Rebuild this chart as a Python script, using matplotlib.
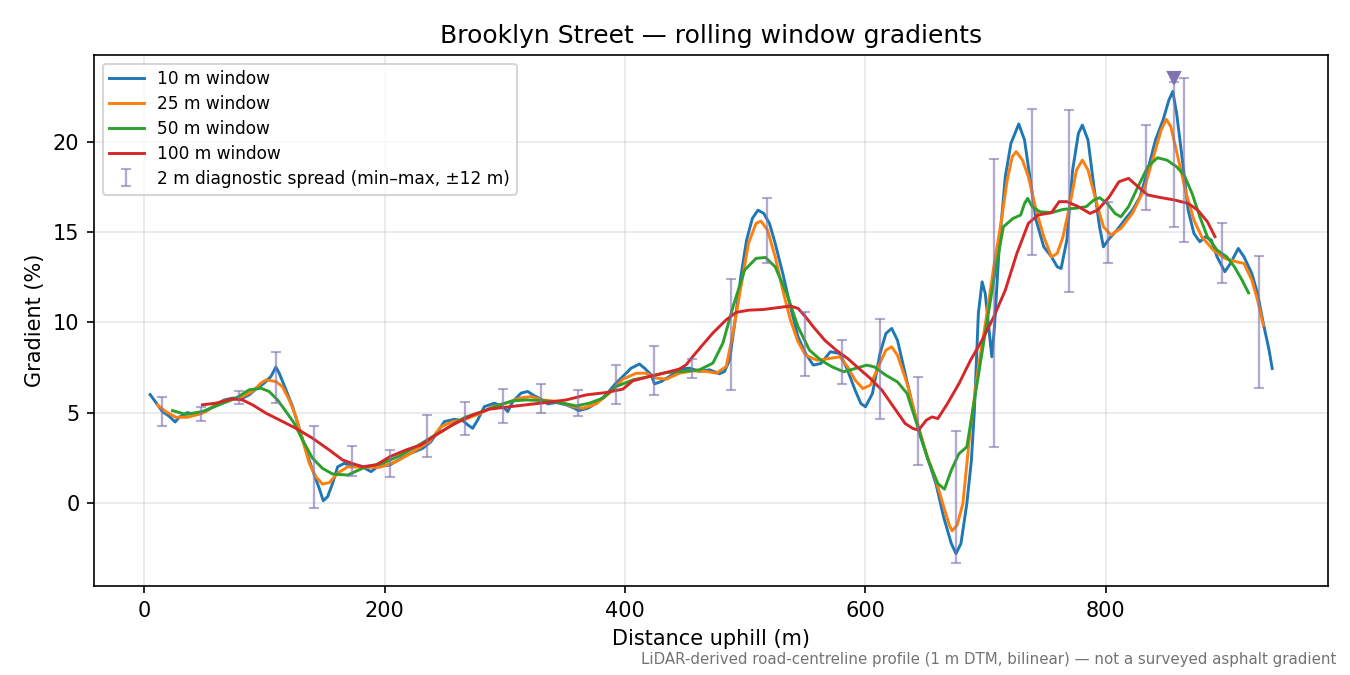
import numpy as np
import matplotlib
matplotlib.use("Agg")
import matplotlib.pyplot as plt

# distance uphill (m) / gradient (%), one pair of lists per window
d10 = [5, 8.3, 15.2, 20.8, 25.8, 29.1, 36, 43, 51.3, 59.6, 66.6, 73.5, 81.8, 87.4, 93, 99.9,
       105.5, 109.6, 112.4, 118, 123.5, 129, 134.6, 140.1, 145.7, 149, 152.6, 156.8, 161, 166.5,
       172.9, 180.4, 188.7, 194.2, 204.5, 213.7, 222, 231.7, 238.6, 244.2, 249.7, 258, 265, 269.2,
       273.3, 277.5, 283, 291.4, 298.3, 302.5, 306.6, 313.6, 319, 324.6, 330.2, 335.7, 342.7, 351,
       358, 361.3, 369, 376, 384.3, 391.2, 398.2, 405.1, 412, 416.2, 421.8, 424.5, 430.1, 437,
       445.3, 453.7, 462, 470.3, 478.6, 482.8, 487, 491.6, 496.3, 501.1, 505.9, 510.6, 515.4,
       520.1, 524.9, 531.2, 537.6, 543.9, 550.2, 556.6, 562.9, 570.8, 578.8, 585.1, 591.4, 596.2,
       600, 605.8, 612.1, 617, 621.8, 626.6, 633, 639.4, 645.8, 652.2, 658.6, 665, 671.4, 675.3,
       679.4, 684.3, 688.1, 690.6, 693.9, 697, 699.6, 702.5, 705.1, 707.3, 711.4, 716.3, 721,
       727.5, 732.3, 737.1, 741.9, 748.3, 754.7, 759.5, 762.7, 767.5, 772.3, 777.1, 780.4, 785.1,
       790, 794.7, 797.9, 802.8, 809.2, 815.5, 822, 828.4, 834.8, 841.2, 847.5, 852.4, 855.6,
       858.8, 863.6, 868.4, 873.2, 878.1, 882.8, 887.7, 892.4, 898.9, 903.6, 910.1, 914.8, 921.3,
       926.1, 930.9, 935.7, 938.3]
g10 = [6.0, 5.7, 5.06, 4.8, 4.48, 4.74, 5.0, 4.87, 5.06, 5.43, 5.7, 5.8, 5.8, 5.98, 6.3, 6.63,
       7.0, 7.52, 7.18, 6.26, 5.33, 4.13, 2.93, 1.82, 0.8, 0.12, 0.34, 1.08, 2.0, 2.19,
       2.04, 2.04, 1.73, 2.0, 2.1, 2.47, 2.75, 3.02, 3.39, 3.95, 4.5, 4.63, 4.56, 4.32,
       4.13, 4.6, 5.33, 5.52, 5.33, 5.06, 5.61, 6.08, 6.17, 5.93, 5.74, 5.48, 5.56, 5.43,
       5.24, 5.11, 5.24, 5.52, 5.98, 6.54, 7.0, 7.46, 7.69, 7.46, 7.09, 6.59, 6.72, 7.0,
       7.41, 7.46, 7.28, 7.37, 7.15, 7.28, 7.92, 10.12, 12.52, 14.55, 15.75, 16.21, 16.03,
       15.48, 14.37, 12.71, 10.86, 9.2, 8.27, 7.63, 7.72, 8.37, 8.27, 7.35, 6.24, 5.5,
       5.32, 6.06, 8.27, 9.38, 9.66, 9.01, 7.17, 5.32, 3.66, 2.36, 1.07, -0.78, -2.25, -2.81,
       -2.25, -0.04, 2.36, 5.13, 10.49, 12.24, 11.6, 9.75, 8.09, 9.75, 14.37, 18.06, 19.91,
       20.98, 20.09, 17.88, 15.66, 14.18, 13.63, 13.07, 12.98, 14.55, 18.43, 20.46, 20.92, 20.09,
       17.51, 15.29, 14.18, 14.64, 15.11, 15.66, 16.21, 16.95, 18.43, 20.09, 21.2, 22.31, 22.78,
       21.57, 18.98, 16.21, 14.92, 14.46, 14.74, 14.55, 13.63, 12.8, 13.26, 14.09, 13.63, 12.71,
       11.6, 9.94, 8.46, 7.44]

d25 = [11, 18, 26.4, 36, 48.5, 65.2, 79, 90.2, 97.1, 101.3, 109.6, 115, 120.7, 126.3, 131.8,
       137.4, 142.9, 148.4, 154, 161, 169.3, 184.5, 195.6, 209.5, 222, 237.2, 247, 256.6, 266.9,
       278.9, 290, 301, 312.2, 321.9, 330.7, 345.5, 356.5, 364.9, 376, 387.1, 398.2, 409.3, 417.6,
       426, 434.3, 445.3, 456.4, 467.6, 475.9, 484.2, 489.8, 496, 502.7, 509, 513.1, 518.5, 524.9,
       531.2, 537.6, 543.9, 550.2, 559.7, 569.3, 578.8, 585.1, 591.4, 597.8, 604.1, 610.6, 617,
       621.8, 626.6, 634.6, 642.6, 650.6, 658.6, 665.1, 669.8, 672, 676.2, 681, 687.4, 693.9,
       700.2, 706.7, 713.1, 717.9, 722.1, 725.3, 730.6, 735.5, 741.9, 748.3, 754.7, 759.5, 764.3,
       770.8, 775.5, 780.4, 785.1, 791.6, 797.9, 804.3, 812.4, 822, 831.6, 839.6, 846, 850.2, 854,
       860.4, 866.7, 873.2, 879.6, 889.3, 898.9, 908.5, 914.8, 921.3, 926.1, 930.9]
g25 = [5.43, 5.06, 4.74, 4.74, 4.97, 5.61, 5.8, 6.17, 6.63, 6.81, 6.72, 6.44, 5.7, 4.78, 3.48,
       2.19, 1.45, 1.04, 1.12, 1.64, 2.0, 1.97, 1.97, 2.28, 2.75, 3.39, 4.22, 4.5, 4.63,
       4.93, 5.33, 5.52, 5.8, 5.89, 5.7, 5.61, 5.33, 5.24, 5.48, 6.08, 6.85, 7.18, 7.18,
       6.91, 6.85, 7.18, 7.31, 7.28, 7.18, 7.55, 9.4, 11.8, 14.37, 15.48, 15.6, 15.11, 13.63,
       11.78, 10.12, 8.92, 8.18, 7.9, 7.99, 8.09, 7.53, 6.8, 6.33, 6.52, 7.53, 8.46,
       8.64, 8.18, 6.61, 4.58, 2.73, 1.26, -0.22, -1.24, -1.55, -1.24, -0.04, 4.21, 7.53,
       10.12, 13.07, 15.66, 17.88, 19.17, 19.45, 18.98, 18.06, 16.21, 14.74, 13.63, 13.81, 14.74,
       16.77, 18.43, 18.98, 18.43, 16.77, 15.29, 14.83, 15.2, 16.03, 17.32, 19.17, 20.65, 21.24, 20.83,
       18.98, 17.14, 15.66, 14.74, 14.0, 13.54, 13.35, 13.26, 12.34, 11.23, 9.84]

d50 = [23.6, 34.7, 48.5, 62.4, 76.3, 87.4, 97.1, 104, 111, 118, 124.9, 131.8, 140.1, 148.4, 156.8,
       169.3, 184.5, 198.4, 212.3, 226.2, 240, 253.9, 266.9, 281.6, 295.5, 306.6, 317.7, 330.7,
       345.5, 359.3, 370.4, 381.5, 392.6, 406.5, 420.4, 434.3, 448.1, 462, 473.1, 481.4, 490,
       499.5, 509, 516.9, 524.9, 534.4, 543.9, 553.4, 562.9, 572.4, 581.9, 591.4, 601, 607.4, 617,
       626.6, 634.6, 642.6, 652.2, 660.2, 665.7, 671.4, 677.8, 684.3, 690.6, 698.6, 706.7, 714.7,
       722.7, 729.1, 732.3, 734.9, 738.7, 745.1, 754.7, 764.3, 773.9, 783.5, 790, 794.7, 801.2,
       807.5, 812.4, 818.8, 826.7, 834.8, 842.8, 850.8, 858.8, 865.1, 871.6, 878.1, 884.4, 892.4,
       900.4, 906.9, 913.2, 918.6]
g50 = [5.11, 4.9, 5.06, 5.43, 5.8, 6.26, 6.35, 6.17, 5.7, 5.06, 4.41, 3.48, 2.47, 1.91, 1.6,
       1.54, 2.0, 2.19, 2.6, 3.11, 3.67, 4.22, 4.74, 5.06, 5.43, 5.65, 5.7, 5.67,
       5.56, 5.37, 5.52, 5.8, 6.44, 6.81, 7.0, 7.22, 7.28, 7.37, 7.74, 8.85, 10.9,
       12.89, 13.54, 13.59, 13.07, 11.6, 9.75, 8.46, 7.9, 7.53, 7.26, 7.44, 7.63, 7.53, 7.07,
       6.7, 6.06, 4.4, 2.36, 1.07, 0.76, 1.81, 2.73, 3.1, 5.69, 9.01, 12.34, 15.29,
       15.75, 15.94, 16.58, 16.86, 16.4, 16.12, 16.07, 16.25, 16.31, 16.4, 16.77, 16.9, 16.58,
       16.03, 15.84, 16.4, 17.51, 18.61, 19.11, 18.98, 18.61, 18.15, 17.14, 15.84, 14.74, 14.0,
       13.63, 13.07, 12.34, 11.63]

d100 = [48.5, 59.6, 73.5, 81.8, 90.2, 101.3, 112.4, 126.3, 140.1, 154, 165, 172.9, 181.7, 192.9,
        204.5, 217.8, 230.3, 242.8, 256.6, 273.3, 287.2, 301, 317.7, 334.4, 351, 367.7, 384.3,
        398.2, 406.5, 420.4, 434.3, 445.3, 450.9, 456.4, 464.7, 473.1, 484.2, 492.5, 502.7, 515.4,
        528, 537.6, 543.9, 550.2, 556.6, 566.1, 575.6, 585.1, 594.6, 604.1, 613.7, 623.3, 633,
        639.4, 644.2, 650.6, 655.4, 660.2, 668.2, 677.8, 687.4, 697, 706.7, 716.3, 725.9, 735.5,
        743.5, 754.7, 761.1, 767.5, 777.1, 786.7, 793.2, 802.8, 810.8, 818.8, 826.7, 834.8, 844.4,
        857.2, 868.4, 876.4, 884.4, 890.7]
g100 = [5.43, 5.52, 5.76, 5.7, 5.43, 4.97, 4.6, 4.13, 3.58, 2.93, 2.38, 2.19, 2.0, 2.1,
        2.56, 2.93, 3.21, 3.76, 4.32, 4.87, 5.19, 5.3, 5.43, 5.56, 5.7, 5.98, 6.11,
        6.3, 6.76, 7.0, 7.22, 7.41, 7.65, 8.11, 8.76, 9.41, 10.14, 10.55, 10.67, 10.71,
        10.82, 10.9, 10.77, 10.3, 9.75, 9.01, 8.46, 8.0, 7.44, 6.89, 6.24, 5.32, 4.4,
        4.12, 4.03, 4.58, 4.76, 4.67, 5.5, 6.61, 7.9, 9.01, 10.3, 11.78, 13.81, 15.48,
        15.94, 16.07, 16.68, 16.68, 16.4, 16.03, 16.21, 16.95, 17.78, 17.97, 17.51, 17.05, 16.92,
        16.77, 16.58, 16.21, 15.57, 14.74]

# 2 m diagnostic spread: position, min, max
spread_d = [15.3, 47.2, 79.1, 109.6, 141.5, 172.9, 204.5, 235.3, 266.9, 298.3, 330.2, 361.3,
            392.6, 424.5, 455.9, 487.8, 517.9, 549.3, 580.7, 612.1, 643.3, 675.0, 706.7, 738.7,
            769.4, 802.0, 833.2, 856.6, 865.2, 896.2, 927.7]
spread_lo = [4.26, 4.56, 5.48, 5.55, -0.27, 1.5, 1.45, 2.56, 3.76, 4.45, 5.0, 4.82,
             5.48, 5.98, 6.94, 6.26, 13.3, 7.02, 6.57, 4.67, 2.09, -3.32, 3.1, 13.72,
             11.69, 13.26, 16.2, 15.27, 14.43, 12.19, 6.37]
spread_hi = [5.89, 5.33, 6.22, 8.33, 4.26, 3.15, 2.93, 4.87, 5.56, 6.31, 6.59, 6.26,
             7.61, 8.66, 7.98, 12.42, 16.9, 10.58, 9.01, 10.19, 6.98, 3.99, 19.02, 21.81,
             21.75, 16.68, 20.9, 23.3, 23.52, 15.5, 13.67]

peak_d, peak_g = 856.6, 23.5

series = [(d10, g10, "10 m window"), (d25, g25, "25 m window"),
          (d50, g50, "50 m window"), (d100, g100, "100 m window")]

fig, ax = plt.subplots(figsize=(9, 4.5), dpi=150)
for i, (d, g, lab) in enumerate(series):
    ax.plot(d, g, color=f"C{i}", lw=1.4, label=lab)

lo = np.array(spread_lo)
hi = np.array(spread_hi)
mid = (lo + hi) / 2
purple = "#8172b2"
ax.errorbar(spread_d, mid, yerr=[mid - lo, hi - mid], fmt="none", ecolor=purple,
            alpha=0.6, elinewidth=1.1, capsize=2.5,
            label="2 m diagnostic spread (min\u2013max, \u00b112 m)")
ax.plot([peak_d], [peak_g], marker="v", color=purple, ms=6, ls="none")

ax.set_xlim(-41.7, 984.7)
ax.set_ylim(-4.6, 24.8)
ax.set_title("Brooklyn Street \u2014 rolling window gradients")
ax.set_xlabel("Distance uphill (m)")
ax.set_ylabel("Gradient (%)")
ax.grid(alpha=0.3)
ax.legend(loc="upper left", fontsize=8.2, labelspacing=0.4)

fig.text(0.99, 0.012, "LiDAR-derived road-centreline profile (1 m DTM, bilinear) \u2014 "
         "not a surveyed asphalt gradient", ha="right", va="bottom", fontsize=7.2, color="0.45")
fig.subplots_adjust(left=0.0696, right=0.9837, top=0.9185, bottom=0.1319)
fig.savefig("out.png", dpi=150)
